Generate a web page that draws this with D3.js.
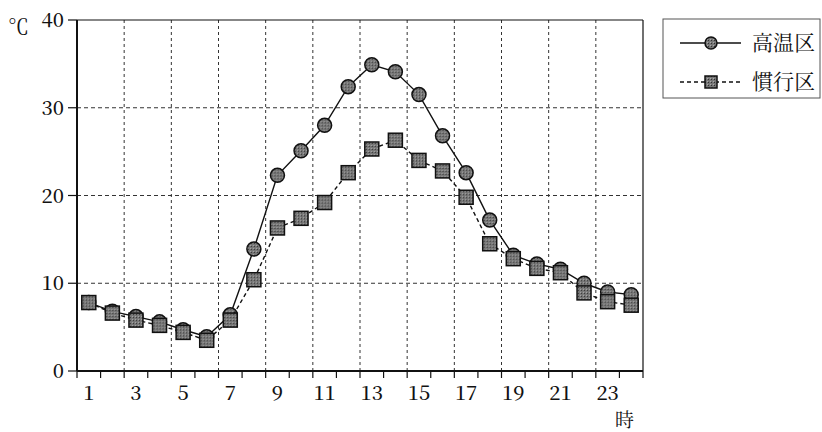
<!DOCTYPE html>
<html>
<head>
<meta charset="utf-8">
<script src="https://cdn.jsdelivr.net/npm/d3@7"></script>
<style>
  html, body { margin: 0; padding: 0; background: #fff; }
  svg { display: block; }
</style>
</head>
<body>
<svg id="chart" width="822" height="432"></svg>
<script>
// hours 1..24
const hours = d3.range(1, 25);
const hourLabels = [1, 3, 5, 7, 9, 11, 13, 15, 17, 19, 21, 23];
const yTicks = [0, 10, 20, 30, 40];

// 高温区 (circles, solid)
const highTemp = [7.8, 6.8, 6.2, 5.6, 4.7, 3.9, 6.4, 13.9, 22.3, 25.1, 28.0, 32.4,
                  34.9, 34.1, 31.5, 26.8, 22.6, 17.2, 13.2, 12.2, 11.6, 10.0, 9.0, 8.7];
// 慣行区 (squares, dashed)
const normalTemp = [7.8, 6.6, 5.8, 5.2, 4.4, 3.5, 5.8, 10.4, 16.3, 17.4, 19.2, 22.6,
                    25.3, 26.3, 24.0, 22.8, 19.8, 14.5, 12.8, 11.7, 11.2, 8.9, 7.9, 7.5];

const series = [
  { name: "高温区", values: highTemp, shape: "circle", dash: null },
  { name: "慣行区", values: normalTemp, shape: "square", dash: "4 3" }
];

const FONT = "Noto Serif CJK JP";

const svg = d3.select("#chart");
const m = { left: 77, top: 20, right: 179, bottom: 61 };
const W = 822 - m.left - m.right;
const H = 432 - m.top - m.bottom;

const g = svg.append("g").attr("transform", `translate(${m.left},${m.top})`);

const x = d3.scaleBand().domain(hours).range([0, W]).paddingInner(0).paddingOuter(0);
const y = d3.scaleLinear().domain([0, 40]).range([H, 0]);
const bw = x.bandwidth();

// grid
g.append("g").selectAll("line")
  .data([10, 20, 30])
  .join("line")
  .attr("x1", 0).attr("x2", W)
  .attr("y1", d => y(d)).attr("y2", d => y(d))
  .attr("stroke", "#333").attr("stroke-width", 1).attr("stroke-dasharray", "4 3");

g.append("g").selectAll("line")
  .data(hours.filter(h => h % 2 === 0 && h < 24))
  .join("line")
  .attr("x1", d => x(d) + bw).attr("x2", d => x(d) + bw)
  .attr("y1", 0).attr("y2", H)
  .attr("stroke", "#333").attr("stroke-width", 1).attr("stroke-dasharray", "3 3");

// frame: top and right
g.append("line").attr("x1", 0).attr("x2", W).attr("y1", 0).attr("y2", 0)
  .attr("stroke", "#111").attr("stroke-width", 1.2);
g.append("line").attr("x1", W).attr("x2", W).attr("y1", 0).attr("y2", H)
  .attr("stroke", "#111").attr("stroke-width", 1.2);

// x axis: ticks at band boundaries
const xAxis = g.append("g").attr("transform", `translate(0,${H})`);
xAxis.append("line").attr("x1", 0).attr("x2", W).attr("stroke", "#111").attr("stroke-width", 2);
xAxis.selectAll("line.tk")
  .data(d3.range(0, 25))
  .join("line").attr("class", "tk")
  .attr("x1", d => d * bw).attr("x2", d => d * bw)
  .attr("y1", 0).attr("y2", 7)
  .attr("stroke", "#111").attr("stroke-width", 1.2);
xAxis.selectAll("text")
  .data(hourLabels)
  .join("text")
  .attr("x", d => x(d) + bw / 2)
  .attr("y", 22)
  .attr("dy", "0.35em")
  .attr("text-anchor", "middle")
  .attr("font-family", FONT)
  .attr("font-size", 20)
  .attr("font-weight", 500)
  .attr("fill", "#111")
  .text(d => d);

// y axis
const yAxis = g.append("g");
yAxis.append("line").attr("y1", 0).attr("y2", H).attr("stroke", "#111").attr("stroke-width", 2);
yAxis.selectAll("line.tk")
  .data(yTicks)
  .join("line").attr("class", "tk")
  .attr("x1", -9).attr("x2", 0)
  .attr("y1", d => y(d)).attr("y2", d => y(d))
  .attr("stroke", "#111").attr("stroke-width", 1.2);
yAxis.selectAll("text")
  .data(yTicks)
  .join("text")
  .attr("x", -13)
  .attr("y", d => y(d))
  .attr("dy", "0.35em")
  .attr("text-anchor", "end")
  .attr("font-family", FONT)
  .attr("font-size", 20)
  .attr("font-weight", 500)
  .attr("fill", "#111")
  .text(d => d);

svg.append("text")
  .attr("x", 8).attr("y", 27).attr("dy", "0.35em")
  .attr("font-family", FONT)
  .attr("font-size", 21).attr("fill", "#111")
  .text("℃");

svg.append("text")
  .attr("x", 615).attr("y", 420).attr("dy", "0.35em")
  .attr("font-family", FONT)
  .attr("font-size", 19).attr("fill", "#111")
  .text("時");

// marker pattern (stippled gray)
const defs = svg.append("defs");
const pat = defs.append("pattern").attr("id", "stip")
  .attr("width", 3).attr("height", 3).attr("patternUnits", "userSpaceOnUse");
pat.append("rect").attr("width", 3).attr("height", 3).attr("fill", "#777");
pat.append("rect").attr("width", 1).attr("height", 1).attr("fill", "#333");
pat.append("rect").attr("x", 2).attr("y", 2).attr("width", 1).attr("height", 1).attr("fill", "#aaa");

const line = d3.line()
  .x((d, i) => x(hours[i]) + bw / 2)
  .y(d => y(d));

function drawMarker(sel, shape, r) {
  if (shape === "circle") {
    sel.append("circle").attr("r", r)
      .attr("fill", "url(#stip)").attr("stroke", "#111").attr("stroke-width", 1.5);
  } else {
    sel.append("rect").attr("x", -r).attr("y", -r).attr("width", 2 * r).attr("height", 2 * r)
      .attr("fill", "url(#stip)").attr("stroke", "#111").attr("stroke-width", 1.5);
  }
}

series.forEach(s => {
  g.append("path")
    .attr("d", line(s.values))
    .attr("fill", "none")
    .attr("stroke", "#111")
    .attr("stroke-width", 1.4)
    .attr("stroke-dasharray", s.dash);
  g.append("g").selectAll("g")
    .data(s.values)
    .join("g")
    .attr("transform", (d, i) => `translate(${x(hours[i]) + bw / 2},${y(d)})`)
    .each(function() { drawMarker(d3.select(this), s.shape, 7); });
});

// legend
const lg = svg.append("g").attr("transform", "translate(663,19)");
lg.append("rect").attr("width", 157).attr("height", 79)
  .attr("fill", "#fff").attr("stroke", "#555").attr("stroke-width", 1);
series.forEach((s, i) => {
  const ly = 24 + i * 39;
  lg.append("line").attr("x1", 17).attr("x2", 78).attr("y1", ly).attr("y2", ly)
    .attr("stroke", "#111").attr("stroke-width", 1.4).attr("stroke-dasharray", s.dash);
  const mk = lg.append("g").attr("transform", `translate(48,${ly})`);
  drawMarker(mk, s.shape, 6);
  lg.append("text")
    .attr("x", 89).attr("y", ly).attr("dy", "0.35em")
    .attr("font-family", FONT)
    .attr("font-size", 21).attr("fill", "#111")
    .text(s.name);
});
</script>
</body>
</html>
